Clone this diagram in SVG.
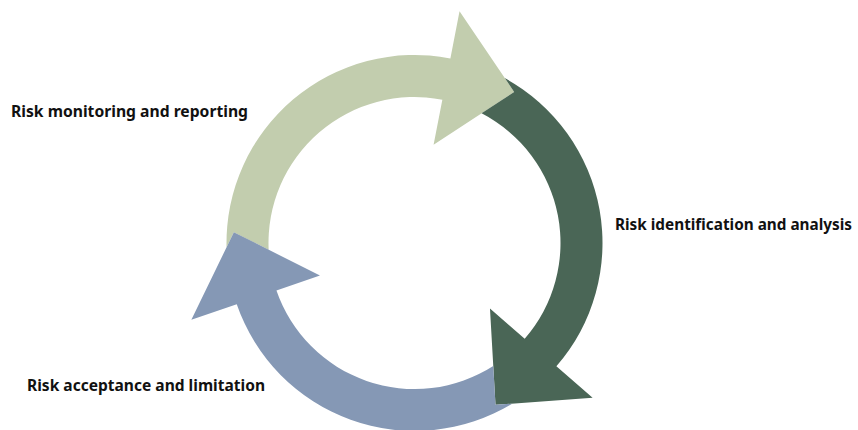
<svg xmlns="http://www.w3.org/2000/svg" xmlns:xlink="http://www.w3.org/1999/xlink" width="858" height="430" viewBox="0 0 858 430">
  <style>
    .label { font-family: "Noto Sans", "Liberation Sans", sans-serif; font-weight: bold; font-size: 16px; fill: #111111; }
    .green { fill: #C2CDAE; }
    .dark { fill: #4A6656; }
    .blue { fill: #8598B5; }
  </style>
  <defs>
    <path id="cycleArrow" d="M -40.04 -183.69 A 188 188 0 0 1 188 0 L 236 0 L 167.3 69.0 L 100 0 L 146 0 A 146 146 0 0 0 -34.45 -141.88 L -23.9 -179.4 Z"/>
  </defs>
  <rect width="858" height="430" fill="#ffffff"/>
  <g id="connectors">
    <g id="arrow-monitoring">
      <use xlink:href="#cycleArrow" href="#cycleArrow" class="green" transform="translate(414.5,243) rotate(-79)"/>
    </g>
    <g id="arrow-identification">
      <use xlink:href="#cycleArrow" href="#cycleArrow" class="dark" transform="translate(414.5,243) rotate(41)"/>
    </g>
    <g id="arrow-acceptance">
      <use xlink:href="#cycleArrow" href="#cycleArrow" class="blue" transform="translate(414.5,243) rotate(161)"/>
    </g>
  </g>
  <g id="node-monitoring">
    <text class="label" x="11" y="116.5" textLength="237" lengthAdjust="spacingAndGlyphs">Risk monitoring and reporting</text>
  </g>
  <g id="node-identification">
    <text class="label" x="615" y="230" textLength="237" lengthAdjust="spacingAndGlyphs">Risk identification and analysis</text>
  </g>
  <g id="node-acceptance">
    <text class="label" x="27" y="390.5" textLength="238" lengthAdjust="spacingAndGlyphs">Risk acceptance and limitation</text>
  </g>
</svg>
